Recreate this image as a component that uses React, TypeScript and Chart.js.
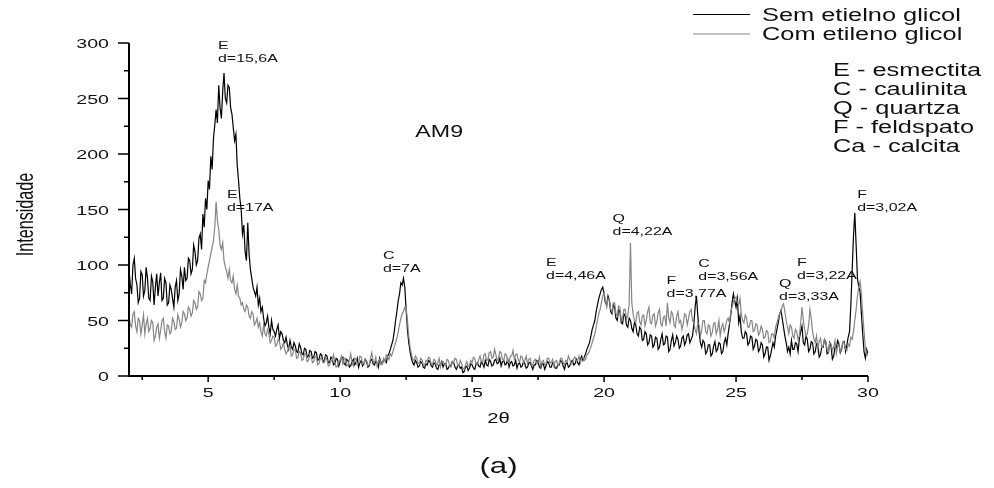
import React, { useEffect, useRef } from "react";
import { Chart, registerables } from "chart.js";

Chart.register(...registerables);

// Scan grid: 2θ from 2° in 0.05° steps (one row below = 1°)
const TWO_THETA_START = 2;
const TWO_THETA_STEP = 0.05;

// Sem etileno glicol (black trace)
const SEM_ETILENO = [
  96, 82, 74, 100, 106, 88, 82, 66, 70, 94, 91, 72, 77, 98, 88, 70, 68, 90, 85, 64,
  80, 92, 72, 84, 93, 68, 70, 88, 84, 64, 66, 82, 78, 70, 62, 80, 86, 68, 74, 96,
  90, 78, 98, 86, 88, 106, 104, 92, 96, 118, 112, 100, 104, 124, 128, 114, 146, 134, 160, 150,
  176, 168, 198, 186, 214, 226, 240, 228, 262, 242, 232, 256, 273, 250, 246, 262, 260, 242, 236, 224,
  212, 218, 190, 176, 160, 150, 128, 136, 112, 104, 138, 110, 96, 88, 80, 76, 72, 80, 64, 70,
  58, 62, 52, 45, 48, 54, 44, 38, 50, 42, 40, 36, 42, 46, 34, 40, 38, 32, 30, 35,
  28, 24, 32, 26, 24, 30, 27, 22, 21, 29, 26, 20, 19, 25, 24, 17, 18, 23, 22, 16,
  17, 22, 21, 14, 15, 20, 19, 13, 14, 19, 18, 12, 12, 17, 16, 10, 11, 16, 15, 9,
  13, 16, 17, 11, 10, 15, 14, 8, 9, 13, 15, 10, 12, 16, 8, 12, 14, 9, 11, 15,
  13, 8, 9, 14, 15, 11, 10, 13, 12, 8, 16, 12, 11, 15, 14, 12, 18, 20, 24, 28,
  32, 40, 50, 58, 68, 74, 84, 82, 88, 80, 60, 42, 30, 22, 16, 12, 10, 14, 12, 8,
  9, 13, 12, 8, 7, 11, 10, 14, 13, 9, 8, 12, 11, 7, 6, 10, 10, 13, 8, 11,
  11, 6, 7, 10, 9, 13, 12, 8, 6, 9, 10, 7, 8, 3, 4, 8, 9, 5, 7, 11,
  10, 7, 6, 11, 12, 9, 8, 13, 11, 8, 14, 10, 9, 15, 13, 9, 10, 14, 15, 11,
  12, 16, 9, 13, 14, 10, 11, 15, 8, 12, 13, 9, 10, 14, 7, 11, 12, 8, 9, 13,
  11, 7, 8, 12, 12, 9, 6, 10, 10, 14, 13, 8, 7, 11, 11, 6, 9, 13, 12, 8,
  8, 12, 11, 7, 7, 10, 10, 14, 13, 9, 6, 11, 12, 8, 9, 13, 14, 10, 11, 15,
  12, 10, 15, 18, 14, 17, 20, 24, 27, 30, 36, 42, 46, 50, 58, 64, 70, 74, 78, 80,
  74, 66, 64, 72, 68, 58, 56, 64, 62, 52, 50, 60, 58, 48, 47, 56, 54, 46, 44, 52,
  50, 43, 40, 48, 46, 38, 36, 44, 42, 32, 33, 40, 38, 28, 30, 37, 36, 26, 28, 35,
  34, 24, 26, 33, 38, 28, 29, 36, 35, 22, 24, 32, 37, 27, 30, 36, 33, 25, 27, 34,
  36, 28, 31, 37, 38, 30, 33, 36, 46, 62, 72, 55, 40, 30, 26, 32, 30, 20, 22, 28,
  28, 18, 20, 27, 31, 22, 24, 30, 29, 20, 22, 30, 34, 28, 38, 46, 55, 66, 74, 68,
  62, 70, 48, 54, 40, 34, 34, 40, 38, 28, 30, 36, 35, 24, 27, 33, 32, 22, 24, 30,
  28, 17, 20, 26, 26, 14, 18, 24, 30, 26, 36, 42, 48, 56, 59, 52, 44, 36, 30, 22,
  26, 20, 32, 24, 24, 30, 29, 22, 34, 40, 45, 30, 28, 36, 33, 22, 24, 31, 30, 20,
  22, 29, 28, 17, 19, 27, 26, 33, 31, 20, 21, 30, 27, 15, 18, 26, 25, 32, 29, 21,
  24, 30, 31, 22, 28, 35, 40, 64, 95, 126, 147, 118, 88, 80, 76, 56, 38, 22, 16, 24,
  20,
];

// Com etileno glicol (grey trace)
const COM_ETILENO = [
  54, 46, 44, 56, 58, 45, 40, 52, 50, 38, 46, 55, 38, 47, 52, 40, 43, 50, 48, 32,
  36, 44, 47, 34, 41, 50, 52, 40, 34, 46, 45, 38, 40, 52, 49, 42, 43, 55, 51, 44,
  48, 58, 56, 50, 52, 62, 60, 54, 57, 68, 66, 60, 62, 76, 74, 68, 70, 86, 84, 92,
  98, 104, 110, 116, 122, 134, 157, 140, 132, 118, 114, 120, 104, 98, 94, 88, 96, 86, 84, 90,
  78, 74, 82, 72, 70, 64, 66, 60, 58, 64, 62, 54, 52, 58, 56, 46, 48, 52, 44, 48,
  40, 36, 46, 38, 36, 42, 38, 30, 32, 36, 35, 27, 28, 33, 31, 24, 26, 30, 24, 20,
  22, 26, 27, 18, 19, 24, 24, 16, 17, 22, 21, 14, 15, 20, 20, 13, 14, 19, 18, 12,
  13, 18, 17, 10, 11, 16, 16, 12, 12, 17, 15, 9, 10, 14, 14, 19, 12, 8, 9, 13,
  14, 18, 11, 15, 16, 9, 10, 14, 20, 12, 9, 16, 15, 10, 12, 18, 17, 11, 11, 15,
  14, 9, 10, 16, 21, 13, 12, 17, 9, 14, 15, 10, 11, 16, 13, 19, 17, 15, 20, 18,
  22, 26, 30, 34, 40, 46, 52, 56, 58, 62, 62, 50, 36, 26, 20, 15, 14, 18, 16, 12,
  11, 16, 15, 10, 9, 14, 13, 17, 16, 11, 10, 15, 14, 9, 12, 16, 8, 12, 13, 10,
  10, 15, 14, 9, 8, 13, 12, 16, 15, 10, 9, 14, 11, 7, 6, 10, 13, 9, 10, 14,
  12, 17, 16, 11, 10, 15, 18, 13, 13, 19, 20, 14, 15, 21, 22, 16, 17, 24, 19, 14,
  16, 22, 21, 15, 14, 20, 19, 13, 12, 18, 18, 23, 15, 19, 20, 14, 13, 18, 17, 12,
  14, 18, 11, 15, 16, 10, 10, 14, 15, 11, 12, 17, 9, 13, 14, 10, 11, 16, 16, 12,
  12, 15, 9, 13, 14, 10, 11, 16, 16, 12, 10, 14, 13, 18, 15, 11, 11, 16, 17, 13,
  14, 18, 12, 16, 17, 14, 15, 19, 20, 23, 26, 30, 34, 38, 44, 50, 56, 60, 66, 72,
  75, 68, 62, 70, 70, 60, 58, 66, 66, 56, 54, 63, 62, 50, 52, 60, 60, 51, 55, 64,
  120, 66, 56, 50, 48, 57, 58, 49, 46, 54, 55, 45, 50, 58, 62, 48, 47, 55, 56, 45,
  49, 57, 60, 47, 45, 53, 54, 45, 66, 52, 48, 58, 56, 46, 44, 54, 58, 48, 50, 42,
  47, 56, 55, 46, 52, 58, 60, 50, 48, 42, 38, 48, 46, 36, 42, 50, 50, 40, 38, 46,
  45, 36, 39, 47, 48, 38, 42, 50, 36, 44, 47, 40, 44, 50, 52, 48, 58, 62, 66, 70,
  71, 66, 64, 70, 56, 50, 48, 55, 52, 44, 44, 50, 50, 40, 41, 47, 46, 37, 39, 45,
  42, 34, 35, 41, 40, 30, 31, 38, 38, 34, 44, 48, 52, 56, 58, 63, 65, 58, 50, 44,
  38, 46, 44, 36, 34, 42, 40, 33, 36, 48, 62, 50, 42, 36, 38, 46, 60, 52, 40, 34,
  30, 36, 24, 31, 34, 26, 27, 33, 31, 24, 22, 30, 29, 23, 26, 32, 20, 27, 28, 22,
  25, 31, 30, 24, 23, 29, 27, 35, 33, 40, 50, 60, 72, 80, 85, 74, 56, 40, 26, 20,
  18,
];

const TWO_THETA = SEM_ETILENO.map((_, i) =>
  Number((TWO_THETA_START + i * TWO_THETA_STEP).toFixed(2))
);

// Axis ticks
const X_MAJOR = [5, 10, 15, 20, 25, 30];
const X_MINOR = [2.5, 7.5, 12.5, 17.5, 22.5, 27.5];
const Y_MAJOR = [0, 50, 100, 150, 200, 250, 300];
const Y_MINOR = [25, 75, 125, 175, 225, 275];

// Reflection labels: mineral letter and d-spacing, anchored in data space
const PEAK_MINERAL = ["E", "E", "C", "E", "Q", "F", "C", "Q", "F", "F"];
const PEAK_DSPACING = ["d=15,6A", "d=17A", "d=7A", "d=4,46A", "d=4,22A", "d=3,77A", "d=3,56A", "d=3,33A", "d=3,22A", "d=3,02A"];
const PEAK_LABEL_X = [5.37, 5.71, 11.62, 17.8, 20.32, 22.37, 23.57, 26.63, 27.31, 29.59];
const PEAK_LABEL_Y = [295, 160, 105, 99, 139, 83, 98, 80, 99, 160];

const SERIES_NAMES = ["Sem etielno glicol", "Com etileno glicol"];
const SERIES_COLORS = ["#000000", "#858585"];
const MINERAL_KEY = ["E - esmectita", "C - caulinita", "Q - quartza", "F - feldspato", "Ca - calcita"];

const SAMPLE_NAME = "AM9";
const SAMPLE_X = 12.85;
const SAMPLE_Y = 215;

const FONT = '"Liberation Sans", Arial, sans-serif';
const STRETCH = 1.45;

function wideText(
  ctx: CanvasRenderingContext2D,
  text: string,
  x: number,
  y: number,
  size: number,
  align: CanvasTextAlign = "left",
  baseline: CanvasTextBaseline = "alphabetic",
  rotate = 0
) {
  ctx.save();
  ctx.translate(x, y);
  ctx.scale(STRETCH, 1);
  if (rotate) ctx.rotate(rotate);
  ctx.font = `${size}px ${FONT}`;
  ctx.textAlign = align;
  ctx.textBaseline = baseline;
  ctx.fillText(text, 0, 0);
  ctx.restore();
}

const decorations = {
  id: "xrdDecorations",
  afterDraw(chart: any) {
    const ctx: CanvasRenderingContext2D = chart.ctx;
    const xs = chart.scales.x;
    const ys = chart.scales.y;
    const { left, right, top, bottom } = chart.chartArea;

    ctx.save();
    ctx.strokeStyle = "#000";
    ctx.fillStyle = "#111";

    // axis lines
    ctx.lineWidth = 2;
    ctx.beginPath();
    ctx.moveTo(left, top);
    ctx.lineTo(left, bottom);
    ctx.lineTo(right, bottom);
    ctx.stroke();

    // tick marks
    ctx.lineWidth = 1.5;
    ctx.beginPath();
    Y_MAJOR.forEach((v) => {
      const y = ys.getPixelForValue(v);
      ctx.moveTo(left - 11, y);
      ctx.lineTo(left, y);
    });
    Y_MINOR.forEach((v) => {
      const y = ys.getPixelForValue(v);
      ctx.moveTo(left - 5, y);
      ctx.lineTo(left, y);
    });
    X_MAJOR.forEach((v) => {
      const x = xs.getPixelForValue(v);
      ctx.moveTo(x, bottom);
      ctx.lineTo(x, bottom + 6);
    });
    X_MINOR.forEach((v) => {
      const x = xs.getPixelForValue(v);
      ctx.moveTo(x, bottom);
      ctx.lineTo(x, bottom + 4);
    });
    ctx.stroke();

    // tick labels
    Y_MAJOR.forEach((v) => {
      wideText(ctx, String(v), left - 20, ys.getPixelForValue(v) + 5, 13.5, "right");
    });
    X_MAJOR.forEach((v) => {
      wideText(ctx, String(v), xs.getPixelForValue(v), bottom + 21, 13.5, "center");
    });

    // axis titles
    wideText(ctx, "2θ", (left + right) / 2, bottom + 47, 14, "center");
    wideText(ctx, "Intensidade", 33, (top + bottom) / 2 + 5, 16.2, "center", "alphabetic", -Math.PI / 2);
    wideText(ctx, "(a)", (left + right) / 2, 473, 21.5, "center");

    // reflection labels
    PEAK_MINERAL.forEach((m, i) => {
      const x = xs.getPixelForValue(PEAK_LABEL_X[i]);
      const y = ys.getPixelForValue(PEAK_LABEL_Y[i]);
      wideText(ctx, m, x, y, 11);
      wideText(ctx, PEAK_DSPACING[i], x, y + 13, 11);
    });

    // sample name
    wideText(ctx, SAMPLE_NAME, xs.getPixelForValue(SAMPLE_X), ys.getPixelForValue(SAMPLE_Y), 16);

    // series legend
    SERIES_NAMES.forEach((name, i) => {
      const y = 14.5 + i * 19.5;
      ctx.strokeStyle = SERIES_COLORS[i];
      ctx.lineWidth = 1;
      ctx.beginPath();
      ctx.moveTo(693, y);
      ctx.lineTo(750, y);
      ctx.stroke();
      wideText(ctx, name, 762, 20.5 + i * 19.5, 17.5);
    });

    // mineral key
    MINERAL_KEY.forEach((t, i) => {
      wideText(ctx, t, 833, 76 + i * 19, 17.5);
    });

    ctx.restore();
  },
};

export default function App() {
  const canvasRef = useRef<HTMLCanvasElement | null>(null);

  useEffect(() => {
    const canvas = canvasRef.current;
    if (!canvas) return;
    const chart = new Chart(canvas, {
      type: "line",
      data: {
        datasets: [
          {
            label: SERIES_NAMES[0],
            data: TWO_THETA.map((x, i) => ({ x, y: SEM_ETILENO[i] })),
            borderColor: SERIES_COLORS[0],
            borderWidth: 1.2,
            pointRadius: 0,
            tension: 0,
            order: 2,
          },
          {
            label: SERIES_NAMES[1],
            data: TWO_THETA.map((x, i) => ({ x, y: COM_ETILENO[i] })),
            borderColor: SERIES_COLORS[1],
            borderWidth: 1.2,
            pointRadius: 0,
            tension: 0,
            order: 1,
          },
        ],
      },
      options: {
        animation: false,
        responsive: false,
        maintainAspectRatio: false,
        devicePixelRatio: 1,
        layout: { padding: { top: 43, right: 126, left: 0, bottom: 0 } },
        plugins: {
          legend: { display: false },
          tooltip: { enabled: false },
          title: { display: false },
        },
        scales: {
          x: {
            type: "linear",
            min: 2,
            max: 30,
            grid: { display: false },
            border: { display: false },
            ticks: { display: false },
            afterFit: (s: any) => {
              s.height = 112;
            },
          },
          y: {
            type: "linear",
            min: 0,
            max: 300,
            grid: { display: false },
            border: { display: false },
            ticks: { display: false },
            afterFit: (s: any) => {
              s.width = 129;
            },
          },
        },
      },
      plugins: [decorations],
    });
    return () => chart.destroy();
  }, []);

  return (
    <div style={{ position: "absolute", left: 0, top: 0, width: 994, height: 488, background: "#fff" }}>
      <canvas ref={canvasRef} width={994} height={488} style={{ display: "block" }} />
    </div>
  );
}
